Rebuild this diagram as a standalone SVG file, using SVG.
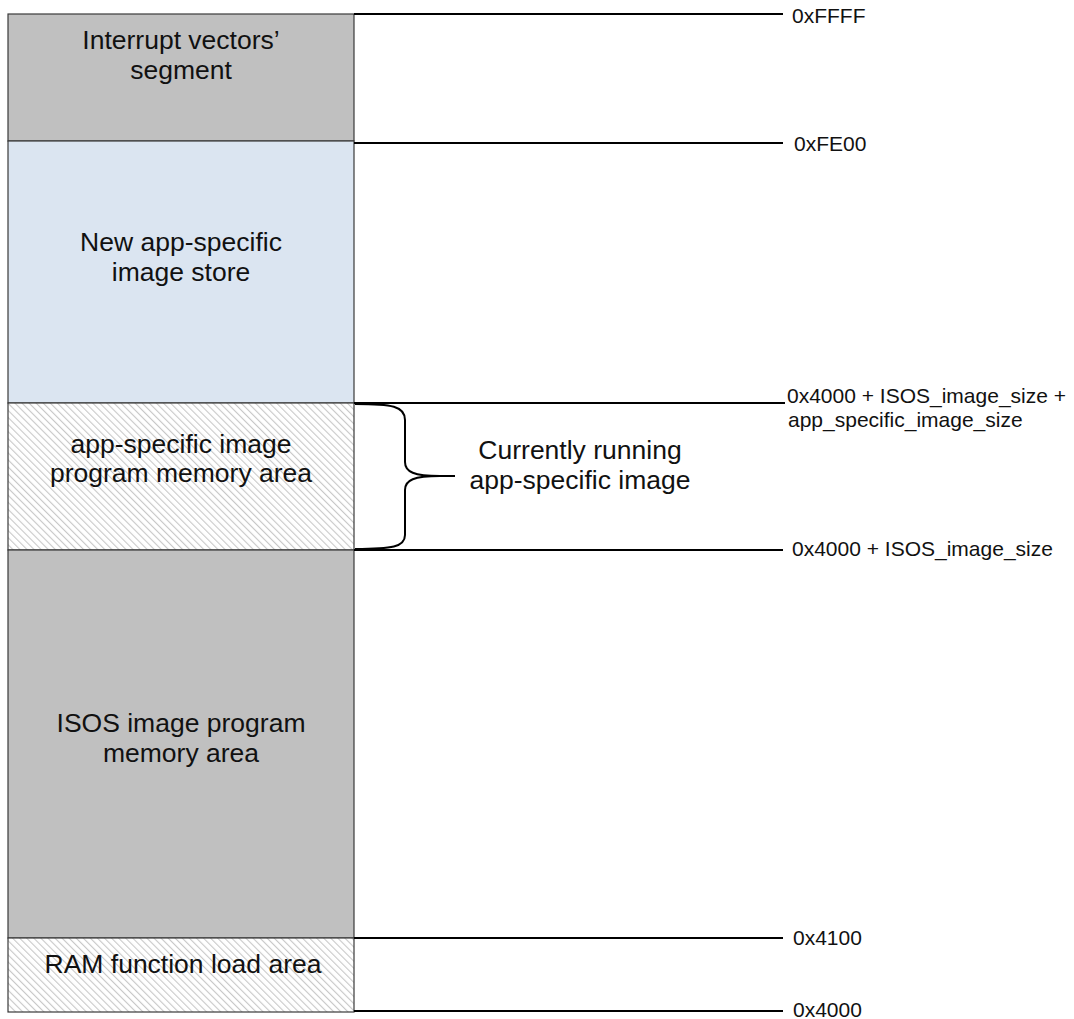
<svg xmlns="http://www.w3.org/2000/svg" width="1074" height="1019" viewBox="0 0 1074 1019">
  <defs>
    <!-- diagonal hatch for program memory areas -->
    <pattern id="hatch" patternUnits="userSpaceOnUse" width="5" height="5" patternTransform="rotate(-45)">
      <rect width="5" height="5" fill="#ffffff"/>
      <line x1="0" y1="0" x2="0" y2="5" stroke="#c8c8c8" stroke-width="2.2"/>
    </pattern>
    <style>
      .seg { stroke: #3a3a3a; stroke-width: 1.2; }
      .gray { fill: #c0c0c0; }
      .blue { fill: #dbe5f1; }
      .hatched { fill: url(#hatch); }
      .lbl { font-family: "Liberation Sans", Arial, sans-serif; font-size: 26.5px; fill: #111; text-anchor: middle; }
      .addr { font-family: "Liberation Sans", Arial, sans-serif; font-size: 21px; fill: #111; }
      .rule { stroke: #000; stroke-width: 2; fill: none; }
    </style>
  </defs>
  <rect width="1074" height="1019" fill="#ffffff"/>

  <g id="interrupt-vectors">
    <rect class="seg gray" x="8" y="14" width="346" height="127"/>
    <text class="lbl" x="181" y="49">Interrupt vectors’</text>
    <text class="lbl" x="181" y="79">segment</text>
  </g>

  <g id="new-image-store">
    <rect class="seg blue" x="8" y="141" width="346" height="262"/>
    <text class="lbl" x="181" y="251">New app-specific</text>
    <text class="lbl" x="181" y="281">image store</text>
  </g>

  <g id="app-image-area">
    <rect class="seg hatched" x="8" y="403" width="346" height="147"/>
    <text class="lbl" x="181" y="453">app-specific image</text>
    <text class="lbl" x="181" y="482">program memory area</text>
  </g>

  <g id="isos-image-area">
    <rect class="seg gray" x="8" y="550" width="346" height="388"/>
    <text class="lbl" x="181" y="732">ISOS image program</text>
    <text class="lbl" x="181" y="762">memory area</text>
  </g>

  <g id="ram-load-area">
    <rect class="seg hatched" x="8" y="938" width="346" height="74"/>
    <text class="lbl" x="183" y="973">RAM function load area</text>
  </g>

  <g id="connectors">
    <line class="rule" x1="354" y1="14" x2="783" y2="14"/>
    <line class="rule" x1="354" y1="143" x2="783" y2="143"/>
    <line class="rule" x1="354" y1="403" x2="785" y2="403"/>
    <line class="rule" x1="354" y1="550" x2="783" y2="550"/>
    <line class="rule" x1="354" y1="938" x2="783" y2="938"/>
    <line class="rule" x1="354" y1="1011" x2="783" y2="1011"/>
    <!-- brace spanning the running image -->
    <path class="rule" d="M355,404 C392,404 405,406 405,420 L405,462 C405,472 414,476 440,476 L455,476 M440,476 C414,476 405,480 405,490 L405,535 C405,547 392,549 355,549"/>
  </g>

  <g id="addresses">
    <text class="addr" x="792" y="23">0xFFFF</text>
    <text class="addr" x="794" y="151">0xFE00</text>
    <text class="addr" x="787" y="403">0x4000 + ISOS_image_size +</text>
    <text class="addr" x="788" y="427">app_specific_image_size</text>
    <text class="addr" x="792" y="556">0x4000 + ISOS_image_size</text>
    <text class="addr" x="793" y="945">0x4100</text>
    <text class="addr" x="793" y="1017">0x4000</text>
  </g>

  <g id="running-note">
    <text class="lbl" x="580" y="459">Currently running</text>
    <text class="lbl" x="580" y="489">app-specific image</text>
  </g>
</svg>
